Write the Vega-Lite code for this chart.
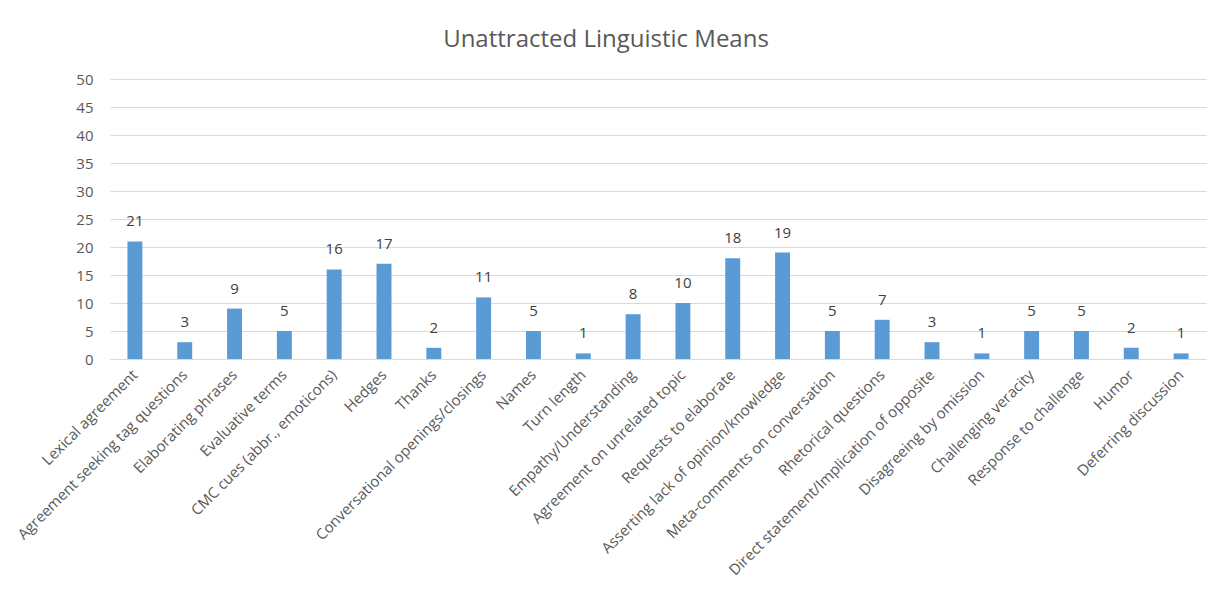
{
  "$schema": "https://vega.github.io/schema/vega-lite/v6.json",
  "width": 1096,
  "height": 280,
  "autosize": {"type": "none"},
  "padding": {"left": 110, "top": 79, "right": 2, "bottom": 253},
  "background": "white",
  "title": {
    "text": "Unattracted Linguistic Means",
    "fontSize": 24,
    "font": "Open Sans",
    "fontWeight": "normal",
    "color": "#595959",
    "anchor": "middle",
    "dx": -52,
    "offset": 20
  },
  "config": {
    "view": {"stroke": null},
    "font": "Open Sans"
  },
  "data": {
    "values": [
      {"cat": "Lexical agreement", "v": 21},
      {"cat": "Agreement seeking tag questions", "v": 3},
      {"cat": "Elaborating phrases", "v": 9},
      {"cat": "Evaluative terms", "v": 5},
      {"cat": "CMC cues (abbr., emoticons)", "v": 16},
      {"cat": "Hedges", "v": 17},
      {"cat": "Thanks", "v": 2},
      {"cat": "Conversational openings/closings", "v": 11},
      {"cat": "Names", "v": 5},
      {"cat": "Turn length", "v": 1},
      {"cat": "Empathy/Understanding", "v": 8},
      {"cat": "Agreement on unrelated topic", "v": 10},
      {"cat": "Requests to elaborate", "v": 18},
      {"cat": "Asserting lack of opinion/knowledge", "v": 19},
      {"cat": "Meta-comments on conversation", "v": 5},
      {"cat": "Rhetorical questions", "v": 7},
      {"cat": "Direct statement/Implication of opposite", "v": 3},
      {"cat": "Disagreeing by omission", "v": 1},
      {"cat": "Challenging veracity", "v": 5},
      {"cat": "Response to challenge", "v": 5},
      {"cat": "Humor", "v": 2},
      {"cat": "Deferring discussion", "v": 1}
    ]
  },
  "encoding": {
    "x": {
      "field": "cat",
      "type": "nominal",
      "sort": null,
      "scale": {"paddingInner": 0.7, "paddingOuter": 0.35},
      "axis": {
        "title": null,
        "labelAngle": -45,
        "labelAlign": "right",
        "labelBaseline": "middle",
        "labelFontSize": 15,
        "labelColor": "#595959",
        "labelPadding": 13,
        "ticks": false,
        "domainColor": "#d9d9d9",
        "labelLimit": 400
      }
    },
    "y": {
      "field": "v",
      "type": "quantitative",
      "scale": {"domain": [0, 50], "nice": false},
      "axis": {
        "title": null,
        "values": [0, 5, 10, 15, 20, 25, 30, 35, 40, 45, 50],
        "domain": false,
        "ticks": false,
        "labelFontSize": 15,
        "labelColor": "#595959",
        "labelPadding": 17,
        "gridColor": "#d9d9d9"
      }
    }
  },
  "layer": [
    {"mark": {"type": "bar", "color": "#5b9bd5"}},
    {
      "mark": {"type": "text", "dy": -20, "fontSize": 15, "color": "#404040"},
      "encoding": {"text": {"field": "v", "type": "quantitative"}}
    }
  ]
}
